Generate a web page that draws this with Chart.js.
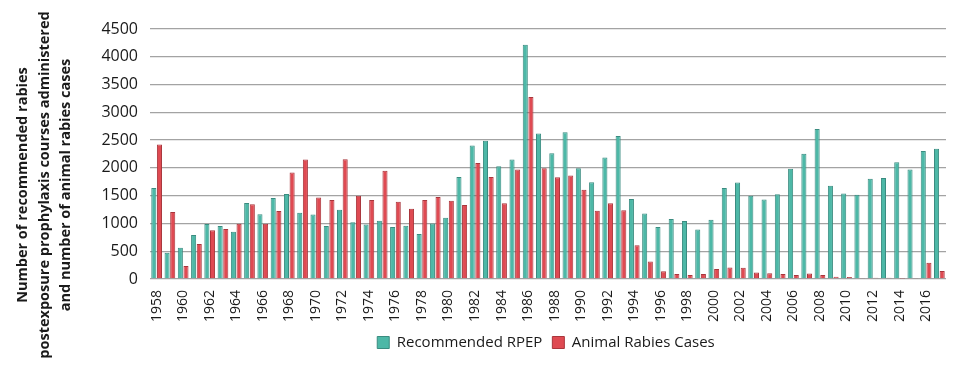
<!DOCTYPE html>
<html>
<head>
<meta charset="utf-8">
<script src="https://cdn.jsdelivr.net/npm/chart.js@4/dist/chart.umd.min.js"></script>
<style>
  html, body { margin: 0; padding: 0; background: #fff; }
  #wrap { width: 980px; height: 370px; }
</style>
</head>
<body>
<div id="wrap"><canvas id="rabiesChart" width="980" height="370"></canvas></div>
<script>
/* ===== Data ===== */
var years = [
  '1958','1959','1960','1961','1962','1963','1964','1965','1966','1967',
  '1968','1969','1970','1971','1972','1973','1974','1975','1976','1977',
  '1978','1979','1980','1981','1982','1983','1984','1985','1986','1987',
  '1988','1989','1990','1991','1992','1993','1994','1995','1996','1997',
  '1998','1999','2000','2001','2002','2003','2004','2005','2006','2007',
  '2008','2009','2010','2011','2012','2013','2014','2015','2016','2017'
];

var recommendedRPEP = [
  1640, 470, 560, 790, 990, 955, 850, 1370, 1165, 1460,
  1530, 1190, 1160, 955, 1245, 1020, 980, 1050, 935, 960,
  810, 1000, 1100, 1835, 2405, 2490, 2030, 2150, 4215, 2620,
  2265, 2640, 1995, 1740, 2185, 2575, 1440, 1180, 935, 1080,
  1045, 890, 1065, 1640, 1735, 1500, 1430, 1525, 1985, 2255,
  2700, 1680, 1540, 1515, 1805, 1820, 2100, 1970, 2305, 2345
];

var animalRabiesCases = [
  2420, 1205, 235, 630, 875, 900, 995, 1345, 995, 1225,
  1915, 2150, 1465, 1420, 2155, 1500, 1420, 1950, 1390, 1265,
  1420, 1475, 1410, 1330, 2090, 1835, 1365, 1970, 3275, 1995,
  1830, 1865, 1605, 1230, 1365, 1235, 605, 315, 140, 90,
  70, 90, 180, 205, 200, 115, 105, 90, 72, 100,
  72, 42, 36, 18, 24, 24, 6, 18, 290, 145
];

var yTicks = [0, 500, 1000, 1500, 2000, 2500, 3000, 3500, 4000, 4500];

var yTitleLines = [
  'Number of recommended rabies',
  'postexposure prophylaxis courses administered',
  'and number of animal rabies cases'
];

/* ===== Style ===== */
var COLORS = {
  teal: '#4db8a7',
  tealBorder: '#3a8c80',
  red: '#df4a52',
  redBorder: '#a9363c',
  grid: '#a3a3a3',
  text: '#1a1a1a'
};
var FAMILY = "'Open Sans', Lato, sans-serif";

/* Y title is centred on the whole canvas height, not on the plot area,
   so it is drawn by a small plugin instead of scale.title.
   The legend is also nudged so it centres under the plot, not the canvas. */
var layoutTweaks = {
  id: 'layoutTweaks',
  afterLayout: function (chart) {
    var area = chart.chartArea;
    var lg = chart.legend;
    if (!lg) return;
    var dx = (area.left + area.right) / 2 - (lg.left + lg.right) / 2 - 2;
    lg.left += dx;
    lg.right += dx;
  },
  afterDraw: function (chart) {
    var c = chart.ctx;
    var lineGap = 21.5;
    var firstX = 23;
    var midY = chart.height / 2;
    c.save();
    c.fillStyle = COLORS.text;
    c.font = 'bold 14.5px ' + FAMILY;
    c.textAlign = 'center';
    c.textBaseline = 'middle';
    yTitleLines.forEach(function (line, i) {
      c.save();
      c.translate(firstX + i * lineGap, midY);
      c.rotate(-Math.PI / 2);
      c.fillText(line, 0, 0);
      c.restore();
    });
    c.restore();
  }
};

var ctx = document.getElementById('rabiesChart');
new Chart(ctx, {
  type: 'bar',
  data: {
    labels: years,
    datasets: [
      {
        label: 'Recommended RPEP',
        data: recommendedRPEP,
        backgroundColor: COLORS.teal,
        borderColor: COLORS.tealBorder,
        borderWidth: 1,
        categoryPercentage: 0.85,
        barPercentage: 0.9
      },
      {
        label: 'Animal Rabies Cases',
        data: animalRabiesCases,
        backgroundColor: COLORS.red,
        borderColor: COLORS.redBorder,
        borderWidth: 1,
        categoryPercentage: 0.85,
        barPercentage: 0.9
      }
    ]
  },
  plugins: [layoutTweaks],
  options: {
    responsive: false,
    devicePixelRatio: 1,
    animation: false,
    layout: { padding: { left: 0, right: 34, top: 29, bottom: 10 } },
    plugins: {
      tooltip: { enabled: false },
      legend: {
        position: 'bottom',
        labels: {
          boxWidth: 12,
          boxHeight: 12,
          padding: 10,
          color: COLORS.text,
          font: { family: FAMILY, size: 15, lineHeight: 1 }
        }
      }
    },
    scales: {
      x: {
        grid: { display: false },
        border: { display: false },
        ticks: {
          autoSkip: false,
          maxRotation: 90,
          minRotation: 90,
          padding: 3,
          color: COLORS.text,
          font: { family: FAMILY, size: 14 },
          callback: function (val, i) { return i % 2 === 0 ? years[i] : ''; }
        }
      },
      y: {
        min: yTicks[0],
        max: yTicks[yTicks.length - 1],
        afterBuildTicks: function (scale) {
          scale.ticks = yTicks.map(function (v) { return { value: v }; });
        },
        afterFit: function (scale) { scale.width = 150; },
        grid: { color: COLORS.grid, lineWidth: 1.3, drawTicks: false },
        border: { display: false },
        ticks: {
          padding: 12,
          color: COLORS.text,
          font: { family: FAMILY, size: 16 },
          callback: function (val) { return String(val); }
        }
      }
    }
  }
});
</script>
</body>
</html>
